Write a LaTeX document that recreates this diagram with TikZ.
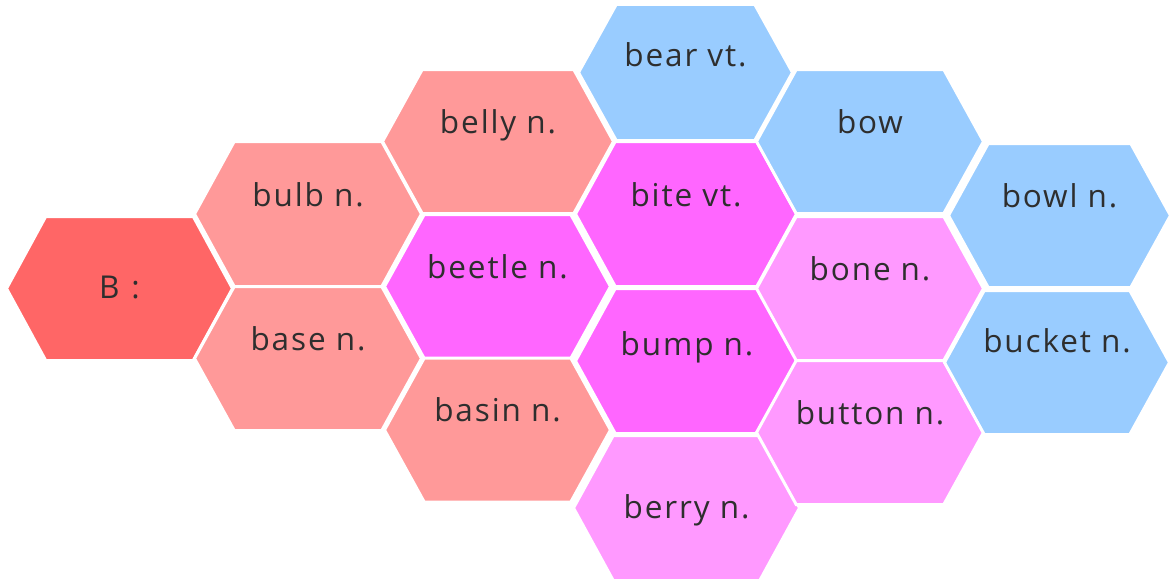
\documentclass[tikz,border=0pt]{standalone}
\usepackage{fontspec}
\setmainfont{Open Sans}[LetterSpace=6]
\definecolor{cB}{HTML}{FF6666}
\definecolor{cSalmon}{HTML}{FF9999}
\definecolor{cMag}{HTML}{FF66FF}
\definecolor{cPink}{HTML}{FF99FF}
\definecolor{cBlue}{HTML}{99CCFF}
\definecolor{cText}{HTML}{2E2E2E}
% #1 name, #2 x, #3 y, #4 half-width, #5 half-height, #6 slant, #7 colour, #8 text, #9 baseline offset
\newcommand\hexcell[9]{%
  \filldraw[hexcell,fill=#7] (#2-#4-1.5,#3) -- (#2-#4+#6-0.8,#3-#5-1.5) -- (#2+#4-#6+0.8,#3-#5-1.5)
     -- (#2+#4+1.5,#3) -- (#2+#4-#6+0.8,#3+#5+1.5) -- (#2-#4+#6-0.8,#3+#5+1.5) -- cycle;
  \node[lbl] (#1) at (#2,#3+#9) {#8};
}
\begin{document}
\begin{tikzpicture}[x=1pt,y=-1pt,
  hexcell/.style={draw=white,line width=3pt,line join=miter},
  lbl/.style={anchor=base,text=cText,inner sep=0pt,font=\fontsize{31.5}{38}\selectfont}]
\useasboundingbox[fill=white] (0,0) rectangle (1169,578);
\hexcell{B}{119.5}{288.5}{111.5}{70.5}{38.5}{cB}{B\hspace{12pt}:\hspace{14pt}}{10}
\hexcell{bulb}{308}{214}{112}{71}{39}{cSalmon}{bulb n.}{-8}
\hexcell{base}{308}{358.5}{112}{70.5}{39}{cSalmon}{base n.}{-8}
\hexcell{belly}{498}{141.5}{114}{70.5}{39}{cSalmon}{belly n.}{-8}
\hexcell{beetle}{497.5}{286.5}{111.5}{70.5}{39}{cMag}{beetle n.}{-8}
\hexcell{basin}{497.5}{430}{111.5}{70.5}{39}{cSalmon}{basin n.}{-9}
\hexcell{bear}{685.5}{72.5}{105.5}{66.5}{37}{cBlue}{bear vt.}{-6}
\hexcell{bite}{686}{214}{109}{71}{39}{cMag}{bite vt.}{-8}
\hexcell{bump}{687}{361}{110}{71}{39}{cMag}{bump n.}{-6}
\hexcell{berry}{686.5}{508}{111.5}{71}{39}{cPink}{berry n.}{10}
\hexcell{bow}{870}{141.5}{112}{70.5}{39}{cBlue}{bow}{-8}
\hexcell{bone}{870}{288.5}{112}{70.5}{39}{cPink}{bone n.}{-8}
\hexcell{button}{870}{432.5}{112}{70.5}{39}{cPink}{button n.}{-8}
\hexcell{bowl}{1059.5}{215.5}{109.5}{70.5}{39}{cBlue}{bowl n.}{-8}
\hexcell{bucket}{1057}{362.5}{111}{70.5}{39}{cBlue}{bucket n.}{-10}
\end{tikzpicture}
\end{document}
